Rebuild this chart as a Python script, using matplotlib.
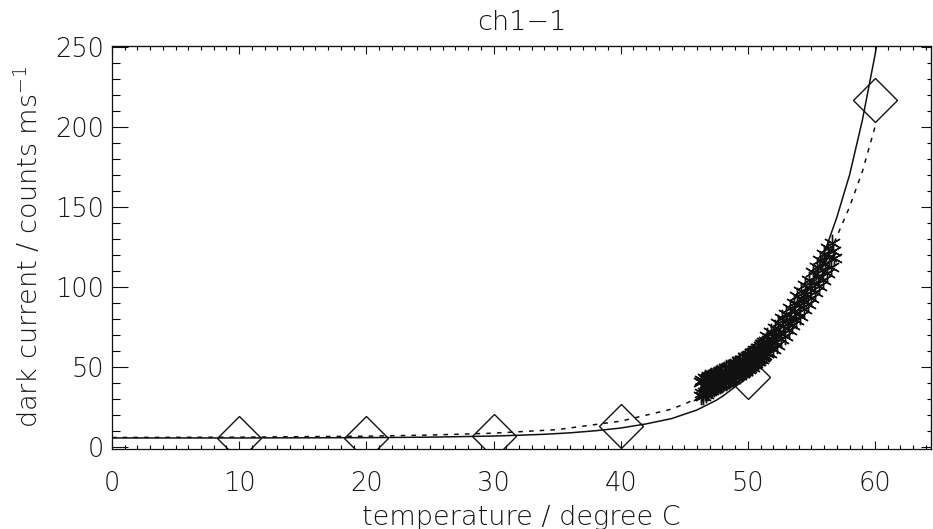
import matplotlib
matplotlib.use("Agg")
import matplotlib.pyplot as plt
from matplotlib.ticker import MultipleLocator

plt.rcParams['font.family'] = ['DejaVu Sans']
plt.rcParams['font.weight'] = 'light'
plt.rcParams['mathtext.fontset'] = 'custom'
plt.rcParams['mathtext.rm'] = 'DejaVu Sans:light'
plt.rcParams['mathtext.it'] = 'DejaVu Sans:light'

# Reference points (large diamonds)
diam_temp = [10, 20, 30, 40, 50, 60]
diam_dark = [5.5, 5.5, 6.6, 12.9, 43.6, 216.6]

# Solid fit curve
fit_temp = [0, 10, 20, 25, 30, 32, 34, 36, 38, 40, 42, 44, 46, 47.5, 48, 50,
            52, 54, 55, 56, 57, 58, 59, 60, 60.4]
fit_dark = [5.5, 5.5, 5.7, 6.0, 6.7, 7.2, 7.8, 8.7, 10.0, 11.7, 14.3, 17.6,
            23.0, 29.0, 31.5, 43.5, 61.0, 86.0, 102.0, 121.0, 143.5, 170.0,
            204.0, 245.0, 263.0]

# Dotted fit curve
dot_temp = [0, 10, 20, 25, 30, 35, 40, 44, 46, 48, 50, 52, 54, 56, 58, 59, 60]
dot_dark = [5.8, 6.0, 6.6, 7.3, 8.5, 10.7, 16.0, 23.5, 30.0, 38.5, 50.0, 65.0,
            85.5, 113.0, 150.0, 172.0, 200.0]

# Sweep measurements, lower temperature range (two readings per step)
sweep_temp_lo = [46.3, 46.4, 46.5, 46.6, 46.7, 46.8, 46.9, 47.0, 47.1, 47.2,
                 47.3, 47.4, 47.5, 47.6, 47.7, 47.8, 47.9, 48.0, 48.1, 48.2,
                 48.3, 48.4, 48.5, 48.6, 48.7, 48.8, 48.9, 49.0, 49.1, 49.2,
                 49.3, 49.4, 49.5, 49.6, 49.7, 49.8, 49.9, 50.0, 50.1, 50.2,
                 50.3, 50.4, 50.5, 50.6, 50.7, 50.8, 50.9, 51.0, 51.1, 51.2,
                 51.3, 51.4]
sweep_dark_lo_a = [40.5, 42.0, 41.0, 43.0, 42.5, 41.5, 43.0, 43.5, 44.0, 43.5,
                   45.0, 44.5, 45.5, 46.0, 45.5, 47.0, 46.5, 47.5, 48.0, 47.5,
                   49.0, 48.5, 49.5, 50.0, 49.5, 51.0, 50.5, 51.5, 52.0, 52.0,
                   53.5, 53.0, 54.0, 54.5, 54.5, 56.0, 55.5, 56.5, 57.0, 57.5,
                   58.5, 58.5, 59.5, 60.5, 60.5, 62.0, 62.0, 63.0, 64.0, 64.5,
                   65.5, 66.0]
sweep_dark_lo_b = [32.0, 33.5, 31.5, 34.0, 33.0, 35.0, 35.5, 36.0, 35.5, 37.0,
                   36.5, 38.0, 37.5, 38.5, 39.0, 38.5, 40.0, 39.5, 40.5, 41.0,
                   40.5, 42.0, 41.5, 42.5, 43.0, 42.5, 44.0, 43.5, 44.5, 45.5,
                   45.0, 46.5, 46.0, 47.0, 48.0, 47.5, 49.0, 48.5, 49.5, 50.5,
                   50.0, 51.5, 51.5, 52.5, 53.5, 53.5, 55.0, 55.0, 56.0, 57.0,
                   57.5, 58.5]

# Sweep measurements, upper temperature range
sweep_temp_hi = [51.5, 51.6, 51.7, 51.8, 51.9, 52.0, 52.1, 52.2, 52.3, 52.4,
                 52.5, 52.6, 52.7, 52.8, 52.9, 53.0, 53.1, 53.2, 53.3, 53.4,
                 53.5, 53.6, 53.7, 53.8, 53.9, 54.0, 54.1, 54.2, 54.3, 54.4,
                 54.5, 54.6, 54.7, 54.8, 54.9, 55.0, 55.1, 55.2, 55.3, 55.4,
                 55.5, 55.6, 55.7, 55.8, 55.9, 56.0, 56.1, 56.2, 56.3, 56.4,
                 56.5, 56.6, 56.7, 56.8]
sweep_dark_hi = [69.0, 64.0, 58.5, 71.5, 66.5, 61.0, 74.0, 69.5, 63.5, 77.5,
                 72.0, 67.5, 80.5, 75.5, 69.5, 83.0, 78.5, 73.0, 87.0, 81.0,
                 76.0, 90.0, 85.0, 79.5, 94.0, 88.5, 82.0, 97.5, 91.5, 86.0,
                 101.0, 95.5, 89.5, 104.5, 99.0, 93.0, 109.0, 102.5, 96.5, 112.5,
                 106.5, 100.5, 116.5, 110.5, 104.0, 120.5, 114.5, 108.5, 124.5, 118.5,
                 112.5, 127.5, 122.5, 118.0]

x_major = [0, 10, 20, 30, 40, 50, 60]
y_major = [0, 50, 100, 150, 200, 250]

W, H = 933, 529
fig = plt.figure(figsize=(W / 100, H / 100), dpi=100)
x0, x1, y0, y1 = 112, 931, 46, 449
ax = fig.add_axes([x0 / W, 1 - y1 / H, (x1 - x0) / W, (y1 - y0) / H])

ink = '#111111'
txt = '#161616'
ax.plot(fit_temp, fit_dark, color=ink, lw=1.1, zorder=2)
ax.plot(dot_temp, dot_dark, color=ink, lw=1.1, linestyle=(0, (3, 4)), zorder=2)
ax.plot(diam_temp, diam_dark, linestyle='none', marker='D', ms=22.9,
        mfc='none', mec=ink, mew=1.0, zorder=3)

sweep_t = sweep_temp_lo + sweep_temp_lo + sweep_temp_hi
sweep_d = sweep_dark_lo_a + sweep_dark_lo_b + sweep_dark_hi
ax.plot(sweep_t, sweep_d, linestyle='none', marker=(6, 2, 0), ms=12.5, mew=1.0,
        color=ink, zorder=4)

ax.set_xlim(0, 64.4)
ax.set_ylim(-1.4, 250.5)

ax.set_xticks(x_major)
ax.set_yticks(y_major)
ax.xaxis.set_minor_locator(MultipleLocator(1))
ax.yaxis.set_minor_locator(MultipleLocator(10))

tick_fs = 18.5
ax.tick_params(axis='x', which='major', direction='in', length=5.8, width=0.8,
               pad=15.5, labelsize=tick_fs, colors=ink, labelcolor=txt)
ax.tick_params(axis='x', which='minor', direction='in', length=2.9, width=0.8)
ax.tick_params(axis='y', which='major', direction='in', length=11.5, width=0.8,
               pad=6, labelsize=tick_fs, colors=ink, labelcolor=txt)
ax.tick_params(axis='y', which='minor', direction='in', length=5.8, width=0.8)
for s in ax.spines.values():
    s.set_linewidth(0.9)
    s.set_color(ink)

# Top and right axes: ticks only
top = ax.secondary_xaxis('top')
top.set_xticks(x_major)
top.xaxis.set_minor_locator(MultipleLocator(1))
top.tick_params(axis='x', which='major', direction='in', length=5.8, width=0.8,
                labeltop=False, colors=ink)
top.tick_params(axis='x', which='minor', direction='in', length=3.2, width=0.8)
right = ax.secondary_yaxis('right')
right.set_yticks(y_major)
right.yaxis.set_minor_locator(MultipleLocator(10))
right.tick_params(axis='y', which='major', direction='in', length=7.2, width=0.8,
                  labelright=False, colors=ink)
right.tick_params(axis='y', which='minor', direction='in', length=2.9, width=0.8)

label_font = dict(family=['DejaVu Sans'], weight='light', fontsize=19.5,
                  color=txt)
cx = (x0 + x1) / 2 / W
fig.text(cx, 1 - 23 / H, 'ch1\u22121', ha='center', va='center', **label_font)
fig.text(cx, 1 - 517 / H, 'temperature / degree C', ha='center', va='center',
         **label_font)
fig.text(28 / W, 1 - 247 / H, r'dark current / counts ms$^{-1}$', ha='center',
         va='center', rotation=90, **label_font)

fig.savefig('out.png', dpi=100, facecolor='white')
